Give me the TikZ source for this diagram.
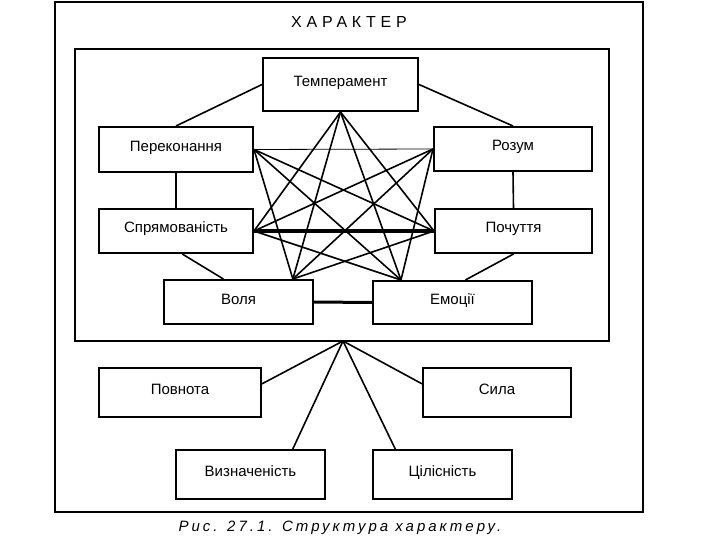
\documentclass[tikz,border=0pt]{standalone}
\usepackage{fontspec}
\setmainfont{Liberation Sans}
\usepackage{tikz}
\usetikzlibrary{calc}

\tikzset{
    khung/.style={draw, line width=2pt, inner sep=0pt, align=center,
        font=\fontsize{15}{17}\selectfont, text height=9pt, text depth=5pt},
    noi/.style={line width=1.6pt},
    noiday/.style={line width=3pt},
    noimanh/.style={line width=0.8pt}
}

\begin{document}
\begin{tikzpicture}[x=1pt, y=-1pt]
    \useasboundingbox (0,0) rectangle (720,540);

    % 1. Khung ngoài, khung trong và tiêu đề
    \draw[line width=2.2pt] (55,2) rectangle (643,512);
    \draw[line width=2pt] (75,49) rectangle (609,341);
    \node[font=\fontsize{16}{18}\selectfont\addfontfeatures{LetterSpace=30}] (tieude) at (349,22) {ХАРАКТЕР};

    % 2. Các ô bên trong
    \node[khung, minimum width=155pt, minimum height=53pt] (temp) at (340.5,84.5) {Темперамент};
    \node[khung, minimum width=154pt, minimum height=45pt] (perek) at (176,149.5) {Переконання};
    \node[khung, minimum width=158pt, minimum height=44pt] (rozum) at (513,149) {Розум};
    \node[khung, minimum width=154pt, minimum height=44pt] (spr) at (176,231) {Спрямованість};
    \node[khung, minimum width=157pt, minimum height=44pt] (poch) at (513.5,231) {Почуття};
    \node[khung, minimum width=149pt, minimum height=44pt] (volia) at (238.5,302) {Воля};
    \node[khung, minimum width=159pt, minimum height=43pt] (emoc) at (452.5,302.5) {Емоції};

    % 3. Các ô bên dưới
    \node[khung, minimum width=162pt, minimum height=49pt] (povn) at (180,392.5) {Повнота};
    \node[khung, minimum width=148pt, minimum height=49pt] (syla) at (497,392.5) {Сила};
    \node[khung, minimum width=149pt, minimum height=49pt] (vyzn) at (250.5,474.5) {Визначеність};
    \node[khung, minimum width=139pt, minimum height=49pt] (tsil) at (442.5,474.5) {Цілісність};

    % 4. Đường nối ngoài
    \draw[noi] (temp.west) -- (perek.north);
    \draw[noi] (temp.east) -- (rozum.north);
    \draw[noi] (perek.south) -- (spr.north);
    \draw[noi] (rozum.south) -- (poch.north);
    \draw[noi] ($(spr.south west)!0.54!(spr.south east)$) -- ($(volia.north west)!0.40!(volia.north east)$);
    \draw[noi] (poch.south) -- ($(emoc.north west)!0.58!(emoc.north east)$);
    \draw[noimanh] (perek.east) -- (rozum.west);
    \draw[noiday] (spr.east) -- (poch.west);
    \draw[noiday] (volia.east) -- (emoc.west);

    % 5. Các đường chéo (ngôi sao)
    \coordinate (dV) at ($(volia.north west)!0.86!(volia.north east)$);
    \coordinate (dE) at ($(emoc.north west)!0.18!(emoc.north east)$);
    \foreach \a/\b in {temp.south/spr.east, temp.south/poch.west, temp.south/dV, temp.south/dE,
                       perek.east/poch.west, perek.east/dV, perek.east/dE,
                       rozum.west/spr.east, rozum.west/dV, rozum.west/dE,
                       spr.east/dE, poch.west/dV}
        \draw[noi] (\a) -- (\b);

    % 6. Đường nối xuống các ô dưới
    \coordinate (tam) at (343,341);
    \draw[noi] (tam) -- ($(povn.north east)!0.33!(povn.south east)$);
    \draw[noi] (tam) -- ($(syla.north west)!0.33!(syla.south west)$);
    \draw[noi] (tam) -- ($(vyzn.north west)!0.78!(vyzn.north east)$);
    \draw[noi] (tam) -- ($(tsil.north west)!0.165!(tsil.north east)$);

    % 7. Chú thích
    \node[font=\itshape\fontsize{15}{17}\selectfont\addfontfeatures{LetterSpace=20}] (chuthich) at (340,528) {Рис. 27.1. Структура характеру.};
\end{tikzpicture}
\end{document}
